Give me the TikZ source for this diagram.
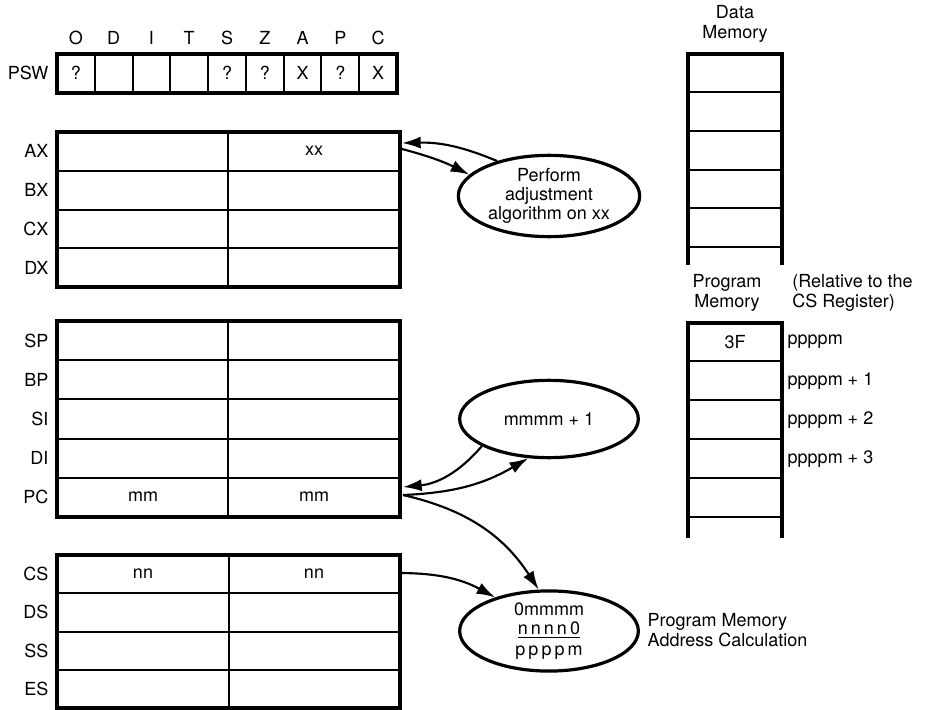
\documentclass[tikz,border=0pt]{standalone}
\usepackage{fontspec}
\setmainfont{TeX Gyre Heros}
\usetikzlibrary{shapes.geometric,arrows.meta}
\tikzset{
  lbl/.style={font=\fontsize{13.5}{14.5}\selectfont},
  box/.style={line width=2.6pt},
  cell/.style={line width=1.5pt},
  arr/.style={-{Latex[length=14pt,width=9pt]}, line width=1.6pt},
  oval/.style={ellipse, draw, line width=2.4pt, inner sep=0pt, align=center,
    minimum width=134pt, minimum height=58pt, font=\fontsize{13.5}{14.5}\selectfont}
}
\begin{document}
\begin{tikzpicture}[x=0.75pt,y=-0.75pt]
\useasboundingbox (0,0) rectangle (925,710);

\foreach \f/\v [count=\i from 0] in {O/?,D/,I/,T/,S/?,Z/?,A/X,P/?,C/X} {
  \node[lbl] (flag\f) at ({75.9+37.78*\i},38) {\f};
  \node[lbl] (bit\f) at ({75.9+37.78*\i},73) {\v};
}
\foreach \i in {1,...,8} \draw[cell] ({57+37.78*\i},54) -- ({57+37.78*\i},93);
\draw[box] (57,54) rectangle (397,93);
\node[lbl,anchor=east] (psw) at (53,73) {PSW};

\foreach \r [count=\i from 0] in {AX,BX,CX,DX}
  \node[lbl,anchor=east] (\r) at (53,{151.4+38.75*\i}) {\r};
\foreach \i in {1,2,3} \draw[cell] (57,{132+38.75*\i}) -- (400,{132+38.75*\i});
\draw[cell] (228,132) -- (228,287);
\draw[box] (57,132) rectangle (400,287);
\node[lbl] (axlo) at (314,151) {xx};

\foreach \r [count=\i from 0] in {SP,BP,SI,DI,PC}
  \node[lbl,anchor=east] (\r) at (53,{340.6+39.2*\i}) {\r};
\foreach \i in {1,...,4} \draw[cell] (57,{321+39.2*\i}) -- (400,{321+39.2*\i});
\draw[cell] (228,321) -- (228,517);
\draw[box] (57,321) rectangle (400,517);
\node[lbl] (pchi) at (143,497) {mm};
\node[lbl] (pclo) at (314,497) {mm};

\foreach \r [count=\i from 0] in {CS,DS,SS,ES}
  \node[lbl,anchor=east] (\r) at (53,{574+38.3*\i}) {\r};
\foreach \i in {1,2,3} \draw[cell] (57,{555+38.3*\i}) -- (400,{555+38.3*\i});
\draw[cell] (229,555) -- (229,708);
\draw[box] (57,555) rectangle (400,708);
\node[lbl] (cshi) at (143,574) {nn};
\node[lbl] (cslo) at (314,574) {nn};

\node[lbl,align=center] (datamem) at (735,24) {Data\\Memory};
\foreach \y in {92,131,170,208,247} \draw[cell] (688,\y) -- (782,\y);
\draw[box] (688,265) -- (688,54) -- (782,54) -- (782,265);

\node[lbl,align=center] (progmem) at (727,293) {Program\\Memory};
\node[lbl,align=left,anchor=west,inner sep=0pt] (rel) at (792,293) {(Relative to the\\CS Register)};
\foreach \y in {361,400,439,478,517} \draw[cell] (688,\y) -- (782,\y);
\draw[box] (688,538) -- (688,323) -- (782,323) -- (782,538);
\node[lbl] (opcode) at (735,342) {3F};
\foreach \t [count=\i from 0] in {ppppm,ppppm + 1,ppppm + 2,ppppm + 3}
  \node[lbl,anchor=west] (addr\i) at (783,{342+39*\i}) {\t};

\node[oval,minimum width=136pt,minimum height=61pt] (adjust) at (549,196) {Perform\\adjustment\\algorithm on xx};
\node[oval] (incr) at (549,419) {mmmm + 1};
\node[oval] (calc) at (549,631) {0mmmm\\\underline{n\,n\,n\,n\,0}\\[1pt]p\,p\,p\,p\,m};
\node[lbl,align=left,anchor=west] (calclbl) at (643,630) {Program Memory\\Address Calculation};

\coordinate (axin) at (402,143);
\coordinate (axout) at (402,149);
\coordinate (pcin) at (403,487);
\coordinate (pcout) at (403,495);
\coordinate (csout) at (401,573);

\draw[arr] (adjust.146) to[bend right=12] (axin);
\draw[arr] (axout) to[bend left=6] (adjust.165);
\draw[arr] (incr.202) to[bend left=22] (pcin);
\draw[arr] (pcout) to[bend right=14] (incr.242);
\draw[arr] (pcout) to[bend left=22] (calc.104);
\draw[arr] (csout) to[bend left=14] (calc.148);
\end{tikzpicture}
\end{document}
